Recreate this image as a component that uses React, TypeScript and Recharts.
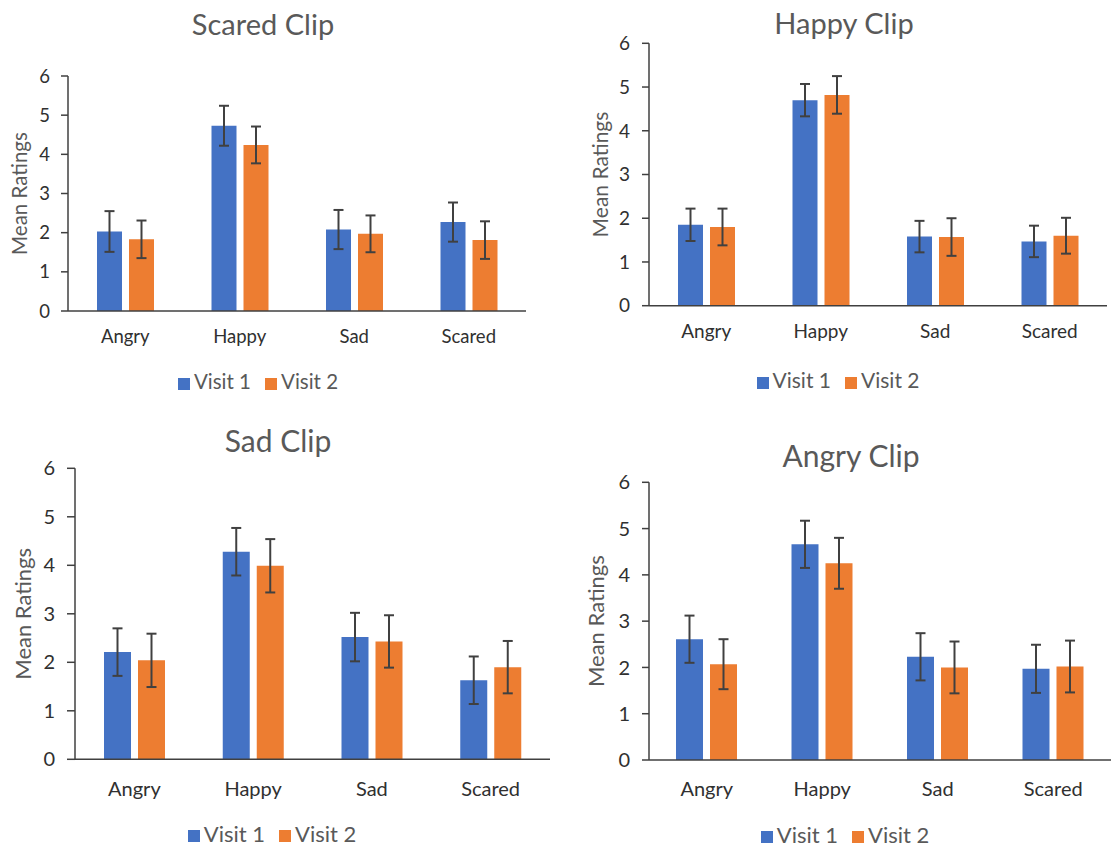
import { BarChart, Bar, XAxis, YAxis, ErrorBar, Legend } from 'recharts';

const categories = ['Angry', 'Happy', 'Sad', 'Scared'];
const yTicks = [0, 1, 2, 3, 4, 5, 6];

// Scared Clip
const scaredVisit1 = [2.03, 4.73, 2.08, 2.27];
const scaredVisit1Err = [0.52, 0.51, 0.5, 0.5];
const scaredVisit2 = [1.83, 4.24, 1.97, 1.81];
const scaredVisit2Err = [0.48, 0.47, 0.47, 0.48];

// Happy Clip
const happyVisit1 = [1.85, 4.7, 1.58, 1.47];
const happyVisit1Err = [0.37, 0.37, 0.36, 0.36];
const happyVisit2 = [1.8, 4.82, 1.57, 1.6];
const happyVisit2Err = [0.42, 0.43, 0.43, 0.41];

// Sad Clip
const sadVisit1 = [2.21, 4.28, 2.52, 1.63];
const sadVisit1Err = [0.49, 0.49, 0.5, 0.49];
const sadVisit2 = [2.04, 3.99, 2.43, 1.9];
const sadVisit2Err = [0.55, 0.55, 0.54, 0.54];

// Angry Clip
const angryVisit1 = [2.61, 4.66, 2.23, 1.97];
const angryVisit1Err = [0.51, 0.51, 0.51, 0.52];
const angryVisit2 = [2.07, 4.25, 2.0, 2.02];
const angryVisit2Err = [0.54, 0.55, 0.56, 0.56];

const BLUE = '#4472C4';
const ORANGE = '#ED7D31';
const GRAY = '#595959';
const DARK = '#404040';

function buildRows(v1: number[], e1: number[], v2: number[], e2: number[]) {
  return categories.map((category, i) => ({
    category,
    visit1: v1[i],
    visit1Err: e1[i],
    visit2: v2[i],
    visit2Err: e2[i],
  }));
}

interface PanelLayout {
  left: number;
  top: number;
  width: number;
  height: number;
  plotLeft: number;
  plotRight: number;
  plotTop: number;
  plotBottom: number;
  tickSize: number;
  tickMargin: number;
  catMargin: number;
  yLabelX: number;
  titleX: number;
  titleY: number;
  legendX: number;
  legendY: number;
  barSize: number;
  fontSize: number;
  labelSize: number;
  titleSize: number;
}

const Y_AXIS_W = 50;
const X_AXIS_H = 30;

function Panel({ title, rows, l }: { title: string; rows: any[]; l: PanelLayout }) {
  const margin = {
    left: l.plotLeft - l.left - Y_AXIS_W,
    right: l.left + l.width - l.plotRight,
    top: l.plotTop - l.top,
    bottom: l.top + l.height - l.plotBottom - X_AXIS_H,
  };
  const labelY = (l.plotTop + l.plotBottom) / 2 - l.top;
  return (
    <div style={{ position: 'absolute', left: l.left, top: l.top, width: l.width, height: l.height }}>
      <div
        style={{
          position: 'absolute',
          left: l.titleX - l.left - 150,
          top: l.titleY - l.top - 18,
          width: 300,
          lineHeight: '36px',
          textAlign: 'center',
          fontSize: l.titleSize,
          color: GRAY,
        }}
      >
        {title}
      </div>
      <BarChart width={l.width} height={l.height} data={rows} margin={margin} barGap={7}>
        <XAxis
          dataKey="category"
          height={X_AXIS_H}
          axisLine={{ stroke: DARK, strokeWidth: 1.5 }}
          tickLine={false}
          tickSize={0}
          tickMargin={l.catMargin}
          tick={{ fill: '#303030', fontSize: l.fontSize }}
        />
        <YAxis
          width={Y_AXIS_W}
          domain={[0, 6]}
          ticks={yTicks}
          interval={0}
          axisLine={{ stroke: DARK, strokeWidth: 1.5 }}
          tickLine={{ stroke: DARK, strokeWidth: 1.5 }}
          tickSize={l.tickSize}
          tickMargin={l.tickMargin}
          tick={{ fill: '#303030', fontSize: l.fontSize }}
          label={{
            content: () => (
              <text
                x={l.yLabelX - l.left}
                y={labelY}
                transform={`rotate(-90, ${l.yLabelX - l.left}, ${labelY})`}
                textAnchor="middle"
                dominantBaseline="central"
                fill={GRAY}
                fontSize={l.labelSize}
              >
                Mean Ratings
              </text>
            ),
          }}
        />
        <Legend
          verticalAlign="middle"
          align="center"
          iconType="square"
          iconSize={12}
          wrapperStyle={{
            top: l.legendY - l.top - 10,
            left: l.legendX - l.left - 120,
            width: 240,
            lineHeight: '20px',
            fontSize: l.labelSize,
          }}
          formatter={(value) => <span style={{ color: GRAY, marginRight: 4 }}>{value}</span>}
        />
        <Bar dataKey="visit1" name="Visit 1" fill={BLUE} barSize={l.barSize} isAnimationActive={false}>
          <ErrorBar dataKey="visit1Err" width={5} strokeWidth={2} stroke={DARK} direction="y" />
        </Bar>
        <Bar dataKey="visit2" name="Visit 2" fill={ORANGE} barSize={l.barSize} isAnimationActive={false}>
          <ErrorBar dataKey="visit2Err" width={5} strokeWidth={2} stroke={DARK} direction="y" />
        </Bar>
      </BarChart>
    </div>
  );
}

const scaredLayout: PanelLayout = {
  left: 0, top: 0, width: 540, height: 400,
  plotLeft: 68, plotRight: 526, plotTop: 76, plotBottom: 311,
  tickSize: 7, tickMargin: 11, catMargin: 19, yLabelX: 19,
  titleX: 263, titleY: 24, legendX: 265, legendY: 381,
  barSize: 25, fontSize: 18.5, labelSize: 20.5, titleSize: 29,
};
const happyLayout: PanelLayout = {
  left: 570, top: 0, width: 541, height: 400,
  plotLeft: 649, plotRight: 1107, plotTop: 43.3, plotBottom: 305.7,
  tickSize: 7, tickMargin: 12, catMargin: 19, yLabelX: 599,
  titleX: 844, titleY: 23, legendX: 845, legendY: 380,
  barSize: 25, fontSize: 19, labelSize: 21, titleSize: 29,
};
const sadLayout: PanelLayout = {
  left: 0, top: 420, width: 560, height: 427,
  plotLeft: 75, plotRight: 550, plotTop: 468.3, plotBottom: 759.3,
  tickSize: 8, tickMargin: 12, catMargin: 22, yLabelX: 23,
  titleX: 278, titleY: 440, legendX: 279, legendY: 834,
  barSize: 27, fontSize: 20, labelSize: 22, titleSize: 30,
};
const angryLayout: PanelLayout = {
  left: 570, top: 420, width: 541, height: 427,
  plotLeft: 649, plotRight: 1111, plotTop: 482.3, plotBottom: 760,
  tickSize: 7, tickMargin: 12, catMargin: 22, yLabelX: 596,
  titleX: 851, titleY: 455, legendX: 852, legendY: 835,
  barSize: 27, fontSize: 20, labelSize: 22, titleSize: 30,
};

export default function App() {
  return (
    <div
      style={{
        position: 'absolute',
        left: 0,
        top: 0,
        width: 1111,
        height: 847,
        background: '#fff',
        fontFamily: 'Lato, "Open Sans", sans-serif',
        overflow: 'hidden',
      }}
    >
      <Panel title="Scared Clip" rows={buildRows(scaredVisit1, scaredVisit1Err, scaredVisit2, scaredVisit2Err)} l={scaredLayout} />
      <Panel title="Happy Clip" rows={buildRows(happyVisit1, happyVisit1Err, happyVisit2, happyVisit2Err)} l={happyLayout} />
      <Panel title="Sad Clip" rows={buildRows(sadVisit1, sadVisit1Err, sadVisit2, sadVisit2Err)} l={sadLayout} />
      <Panel title="Angry Clip" rows={buildRows(angryVisit1, angryVisit1Err, angryVisit2, angryVisit2Err)} l={angryLayout} />
    </div>
  );
}
